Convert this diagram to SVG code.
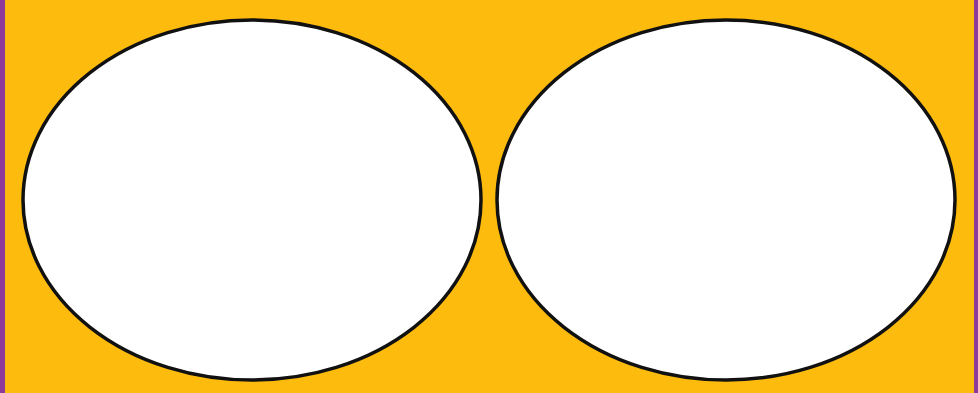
<svg xmlns="http://www.w3.org/2000/svg" width="978" height="393" viewBox="0 0 978 393">
<style>
.oval{fill:#ffffff;stroke:#111111;stroke-width:3.5}
</style>
<rect x="0" y="0" width="978" height="393" fill="#fdbb0d"/>
<rect x="0" y="0" width="5" height="393" fill="#8e3a9a"/>
<rect x="974" y="0" width="4" height="393" fill="#8e3a9a"/>
<g id="left"><ellipse class="oval" cx="252" cy="200" rx="229" ry="180"/></g>
<g id="right"><ellipse class="oval" cx="726" cy="200" rx="229" ry="180"/></g>
<g id="connectors"></g>
</svg>
